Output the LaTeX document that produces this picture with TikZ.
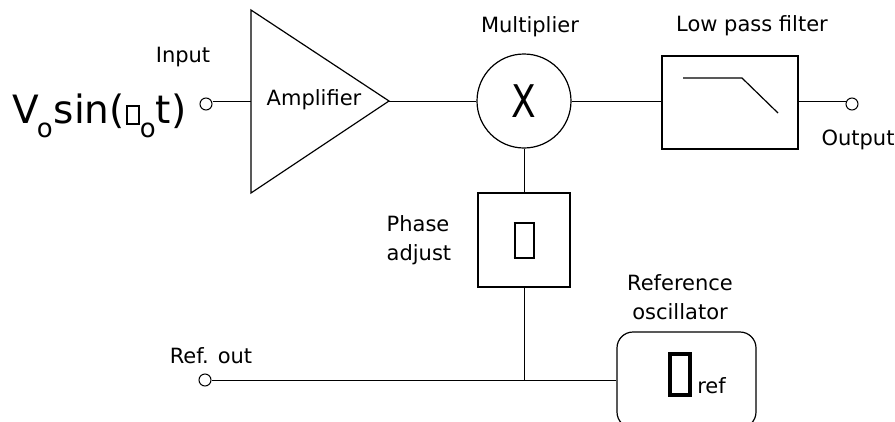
\documentclass[tikz,border=0pt]{standalone}
\usepackage{fontspec}
\setmainfont{DejaVu Sans}
\usepackage{tikz}
\usetikzlibrary{positioning, calc}
\newcommand{\nullglyph}[3]{{\setlength{\fboxsep}{0pt}\setlength{\fboxrule}{#3}\fbox{\rule{0pt}{#2}\rule{#1}{0pt}}}}
\newcommand{\subo}{\raisebox{-14pt}{\fontsize{26}{26}\selectfont o}}

\begin{document}
\begin{tikzpicture}[
    x=1pt, y=-1pt,
    label/.style={font=\fontsize{21}{29}\selectfont, inner sep=0pt, align=center},
    block/.style={rectangle, draw, line width=1.2pt, inner sep=0pt},
    terminal/.style={circle, draw, line width=1pt, minimum size=12pt, inner sep=0pt},
    wire/.style={line width=1pt}
]
\useasboundingbox (0,0) rectangle (895,421);
\clip (0,0) rectangle (895,421);

\node[anchor=base west, inner sep=0pt, font=\fontsize{39}{40}\selectfont] (signal) at (12,123)
    {V\kern-2pt\subo\kern1pt sin(\kern1pt\nullglyph{10pt}{16pt}{2pt}\subo t)};
\node[terminal] (inc) at (206,104) {};
\node[label] (inlabel) at (183,57) {Input};

\coordinate (amptop) at (251,10);
\coordinate (ampbot) at (251,193);
\coordinate (ampin) at (251,101);
\coordinate (ampout) at (389,101);
\draw[line width=1.2pt, line join=miter] (amptop) -- (ampout) -- (ampbot) -- cycle;
\node[label] (amp) at (314,100) {Amplifier};

\node[circle, draw, line width=1.2pt, minimum size=94pt, inner sep=0pt,
      font=\fontsize{45}{45}\selectfont] (mult) at (524,101) {\scalebox{0.8}[1]{X}};
\node[label] (multlabel) at (530,27) {Multiplier};

\node[block, minimum width=136pt, minimum height=93pt] (lpf) at (730,102.5) {};
\draw[line width=1.2pt] ([shift={(-47,-24.5)}]lpf.center) -- ++(59,0) -- ++(36,35);
\node[label] (lpflabel) at (752,26) {Low pass filter};

\node[terminal] (outc) at (852,104) {};
\node[label] (outlabel) at (858,140) {Output};

\node[block, minimum width=92pt, minimum height=94pt] (phase) at (524,240) {\nullglyph{17pt}{33pt}{2pt}};
\node[label, align=left, left=26pt of phase] (phaselabel) {Phase\\adjust};

\node[block, rounded corners=16pt, minimum width=139pt, minimum height=96pt] (osc) at (686.5,380) {};
\node[anchor=base, inner sep=0pt, font=\fontsize{21}{21}\selectfont] (oscsym) at (697,393)
    {\nullglyph{16pt}{37pt}{4pt}\kern5pt ref};
\node[label] (osclabel) at (680,297) {Reference\\oscillator};

\node[terminal] (refc) at (205,380) {};
\node[label] (reflabel) at (211,356) {Ref. out};
\coordinate (junction) at (524,380);

\draw[wire] (inc.east |- ampin) -- (ampin);
\draw[wire] (ampout) -- (mult.west);
\draw[wire] (mult.east) -- (mult.east -| lpf.west);
\draw[wire] (mult.east -| lpf.east) -- (mult.east -| outc.west);
\draw[wire] (mult.south) -- (phase.north);
\draw[wire] (phase.south) -- (junction);
\draw[wire] (refc.east) -- (osc.west);

\end{tikzpicture}
\end{document}
